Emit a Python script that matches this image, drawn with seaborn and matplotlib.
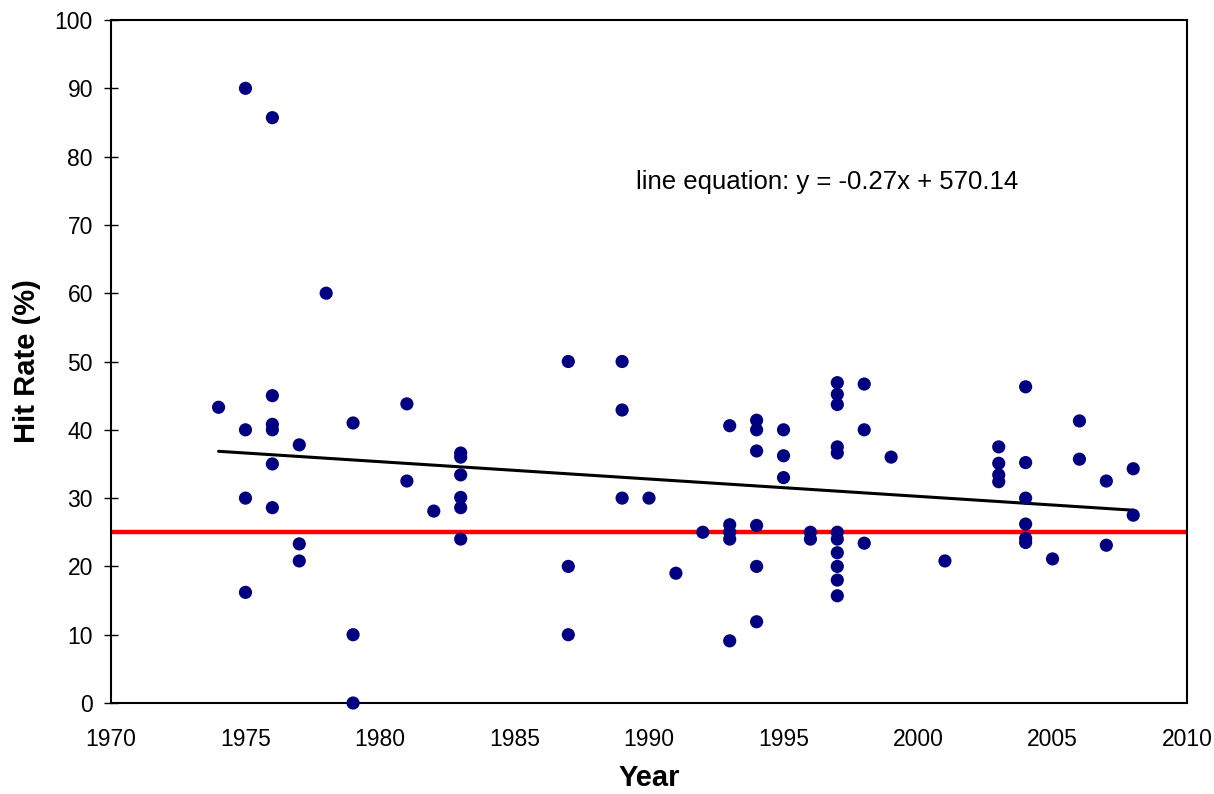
import numpy as np
import pandas as pd
import matplotlib
matplotlib.use("Agg")
import matplotlib.pyplot as plt
import seaborn as sns

years = [1974,
         1975, 1975, 1975, 1975,
         1976, 1976, 1976, 1976, 1976, 1976,
         1977, 1977, 1977,
         1978,
         1979, 1979, 1979,
         1981, 1981,
         1982,
         1983, 1983, 1983, 1983, 1983, 1983,
         1987, 1987, 1987,
         1989, 1989, 1989,
         1990,
         1991,
         1992,
         1993, 1993, 1993, 1993, 1993,
         1994, 1994, 1994, 1994, 1994, 1994,
         1995, 1995, 1995,
         1996, 1996,
         1997, 1997, 1997, 1997, 1997, 1997, 1997, 1997, 1997, 1997, 1997,
         1998, 1998, 1998,
         1999,
         2001,
         2003, 2003, 2003, 2003,
         2004, 2004, 2004, 2004, 2004, 2004,
         2005,
         2006, 2006,
         2007, 2007,
         2008, 2008]
hit_rate = [43.3,
            90.0, 40.0, 30.0, 16.2,
            85.7, 45.0, 40.8, 40.0, 35.0, 28.6,
            37.8, 23.3, 20.8,
            60.0,
            41.0, 10.0, 0.0,
            43.8, 32.5,
            28.1,
            36.6, 36.0, 33.4, 30.1, 28.6, 24.0,
            50.0, 20.0, 10.0,
            50.0, 42.9, 30.0,
            30.0,
            19.0,
            25.0,
            40.6, 26.1, 25.0, 24.0, 9.1,
            41.4, 40.0, 36.9, 26.0, 20.0, 11.9,
            40.0, 36.2, 33.0,
            25.0, 24.0,
            46.9, 45.2, 43.7, 37.5, 36.6, 25.0, 24.0, 22.0, 20.0, 18.0, 15.7,
            46.7, 40.0, 23.4,
            36.0,
            20.8,
            37.5, 35.1, 33.4, 32.4,
            46.3, 35.2, 30.0, 26.2, 24.1, 23.5,
            21.1,
            41.3, 35.7,
            32.5, 23.1,
            34.3, 27.5]

chance_level = 25
equation_text = "line equation: y = -0.27x + 570.14"
x_ticks = list(range(1970, 2011, 5))
y_ticks = list(range(0, 101, 10))

df = pd.DataFrame({"Year": years, "Hit Rate (%)": hit_rate})

sns.set_style("white")
plt.rcParams['font.family'] = ['Liberation Sans', 'DejaVu Sans']
plt.rcParams['text.color'] = 'black'
plt.rcParams['axes.labelcolor'] = 'black'
plt.rcParams['xtick.color'] = 'black'
plt.rcParams['ytick.color'] = 'black'

fig = plt.figure(figsize=(12.14, 7.94), dpi=100)
ax = fig.add_axes([0.0914, 0.1146, 0.8864, 0.8602])

ax.axhline(chance_level, color="#ff0000", lw=3.2, zorder=1)
sns.regplot(data=df, x="Year", y="Hit Rate (%)", scatter=False, ci=None,
            color="black", line_kws={"lw": 2.2, "zorder": 2}, ax=ax, truncate=True)
sns.scatterplot(data=df, x="Year", y="Hit Rate (%)", color="#000080", s=90,
                edgecolor="none", ax=ax, zorder=3, clip_on=False)

ax.set_xlim(1970, 2010)
ax.set_ylim(0, 100)
ax.set_xticks(x_ticks)
ax.set_yticks(y_ticks)
ax.tick_params(axis="y", labelsize=16.5, direction="inout", length=10, width=1,
               pad=8, left=True)
ax.tick_params(axis="x", labelsize=16.5, length=0, pad=18, bottom=True)
for s in ax.spines.values():
    s.set_color("black")
    s.set_linewidth(1.5)
ax.set_xlabel("Year", fontsize=21, fontweight="bold", labelpad=9)
ax.set_ylabel("Hit Rate (%)", fontsize=21, fontweight="bold", labelpad=10)
ax.text(1989.5, 76.3, equation_text, fontsize=18.5, va="center", ha="left")

fig.savefig("out.png", dpi=100)
